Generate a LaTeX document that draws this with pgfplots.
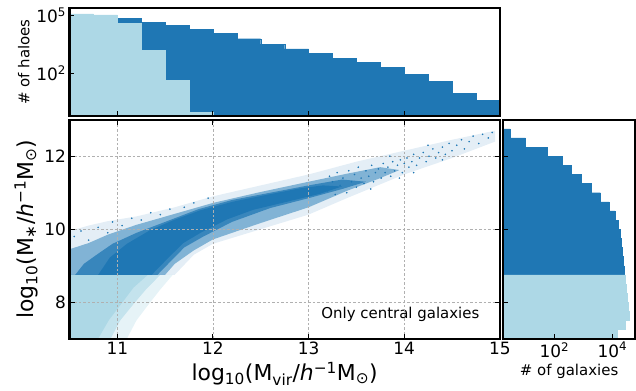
\documentclass[border=0pt]{standalone}
\usepackage{fontspec}
\setmainfont{DejaVu Sans}
\usepackage{pgfplots}
\usepackage{pgfplotstable}
\pgfplotsset{compat=1.18}
\definecolor{tabblue}{HTML}{1F77B4}
\definecolor{lblue}{HTML}{ADD8E6}
\definecolor{gridgray}{HTML}{B0B0B0}

% top histogram: halo counts per log10(Mvir) bin (last row = right edge)
\pgfplotstableread{
x n
10.50 100000
10.75 100000
11.00 69200
11.25 44700
11.50 30200
11.75 19500
12.00 11700
12.25 6170
12.50 3240
12.75 1860
13.00 1070
13.25 617
13.50 380
13.75 204
14.00 91
14.25 40
14.50 9
14.75 4
15.00 4
}\topdark
\pgfplotstableread{
x n
10.50 117500
10.75 105000
11.00 38900
11.25 1580
11.50 45
11.75 1
12.00 1
}\toplight
% right histogram: galaxy counts per log10(M*) bin (last row = upper edge)
\pgfplotstableread{
n y
25700 8.75
24000 9.00
21400 9.25
20000 9.50
18600 9.75
15500 10.00
12300 10.25
7760 10.50
3890 10.75
1860 11.00
870 11.25
380 11.50
186 11.75
56 12.00
10 12.25
3 12.50
3 12.75
}\rightdark
\pgfplotstableread{
n y
14800 7.00
28200 7.25
38900 7.50
35500 7.75
33100 8.00
29500 8.25
27500 8.50
27500 8.75
}\rightlight

\pgfplotsset{
  panel/.style={
    scale only axis,
    axis on top,
    tick align=inside,
    axis line style={line width=2.2bp, black},
    every tick/.style={black, line width=0.9bp},
    major tick length=5bp,
    ticklabel style={font=\fontsize{17}{17}\selectfont},
    /pgf/number format/assume math mode=true,
    label style={font=\fontsize{22}{24}\selectfont},
  }
}

\begin{document}
\begin{tikzpicture}
\useasboundingbox (0,0) rectangle (636bp,391bp);

% ---------------- main scatter panel ----------------
\begin{axis}[panel,
  at={(69.5bp,52.3bp)}, anchor=south west,
  width=430.3bp, height=219bp,
  xmin=10.5, xmax=15, ymin=7, ymax=13,
  xtick={11,12,13,14,15}, ytick={8,10,12},
  grid=major,
  grid style={gridgray, line width=0.6bp, dash pattern=on 2.5bp off 2bp},
  xlabel={log\textsubscript{10}(M\textsubscript{vir}/\textit{h}\textsuperscript{−1}M\textsubscript{⊙})},
  ylabel={log\textsubscript{10}(M\textsubscript{∗}/\textit{h}\textsuperscript{−1}M\textsubscript{⊙})},
]
% light blue (below stellar-mass cut)
\addplot[fill=lblue, draw=none, fill opacity=0.3] coordinates {
 (10.5,7.0) (10.5,8.75) (11.58,8.75) (11.45,8.35) (11.33,7.95) (11.2,7.5) (11.1,7.0)} --cycle;
\addplot[fill=lblue, draw=none, fill opacity=0.6] coordinates {
 (10.5,7.0) (10.5,8.75) (11.45,8.75) (11.3,8.35) (11.17,7.95) (11.03,7.5) (10.93,7.0)} --cycle;
\addplot[fill=lblue, draw=none] coordinates {
 (10.5,7.0) (10.5,8.75) (11.32,8.75) (11.17,8.4) (11.04,7.95) (10.91,7.5) (10.8,7.0)} --cycle;
% dark blue (above cut)
\addplot[fill=tabblue, draw=none, fill opacity=0.12] coordinates {
 (10.5,8.75) (10.5,9.95) (10.7,10.1) (10.9,10.22) (11.2,10.35) (11.6,10.6) (12.0,10.9)
 (12.5,11.2) (13.0,11.5) (13.5,11.85) (14.0,12.15) (14.5,12.45) (14.95,12.7)
 (14.95,12.4) (14.5,11.95) (14.0,11.5) (13.4,10.85) (13.0,10.4) (12.5,10.0)
 (12.0,9.6) (11.8,9.3) (11.6,8.75)} --cycle;
\addplot[fill=tabblue, draw=none, fill opacity=0.5] coordinates {
 (10.5,8.75) (10.5,9.45) (10.7,9.62) (10.9,9.85) (11.2,10.12) (11.6,10.42) (12.0,10.72)
 (12.5,11.02) (13.0,11.3) (13.4,11.52) (13.75,11.7) (13.95,11.62)
 (13.75,11.4) (13.4,11.05) (13.0,10.6) (12.5,10.17) (12.0,9.72) (11.8,9.42)
 (11.6,9.05) (11.5,8.75)} --cycle;
\addplot[fill=tabblue, draw=none, fill opacity=0.75] coordinates {
 (10.56,8.75) (10.65,9.05) (10.8,9.33) (10.95,9.6) (11.2,9.9) (11.5,10.2) (11.85,10.55)
 (12.2,10.8) (12.6,11.0) (13.0,11.2) (13.35,11.36) (13.6,11.3)
 (13.35,11.1) (13.0,10.85) (12.6,10.58) (12.2,10.2) (11.9,9.8) (11.7,9.5)
 (11.55,9.1) (11.42,8.75)} --cycle;
\addplot[fill=tabblue, draw=none] coordinates {
 (10.8,8.75) (10.92,9.22) (11.1,9.6) (11.34,9.97) (11.59,10.25) (11.87,10.52)
 (12.22,10.76) (12.56,10.94) (12.91,11.12) (13.15,11.2) (13.35,11.17)
 (13.12,10.97) (12.74,10.73) (12.42,10.53) (12.15,10.27) (11.87,9.9)
 (11.69,9.62) (11.52,9.18) (11.36,8.75)} --cycle;
% sparse individual galaxies
\addplot[only marks, color=tabblue, mark=*, mark size=0.6bp,
  mark options={draw=none, fill=tabblue, fill opacity=0.6}] table {
13.20 11.05
13.22 11.45
13.25 11.30
13.28 10.95
13.30 11.55
13.33 11.20
13.36 11.40
13.40 11.00
13.42 11.60
13.45 11.30
13.48 11.50
13.50 11.15
13.52 11.70
13.55 11.40
13.58 11.25
13.60 11.60
13.63 11.45
13.66 11.75
13.68 11.30
13.70 11.55
13.73 11.65
13.76 11.40
13.78 11.80
13.80 11.55
13.83 11.70
13.86 11.45
13.88 11.85
13.90 11.60
13.93 11.75
13.96 11.90
13.98 11.55
14.00 11.80
14.03 11.95
14.05 11.70
14.08 11.85
14.10 12.05
14.13 11.75
14.16 11.95
14.20 12.10
14.23 11.85
14.26 12.00
14.30 12.20
14.33 11.95
14.36 12.10
14.40 12.25
14.43 12.05
14.47 12.35
14.50 12.15
14.55 12.30
14.60 12.45
14.63 12.20
14.68 12.40
14.72 12.55
14.78 12.35
14.82 12.60
14.88 12.50
14.92 12.65
14.10 11.55
13.95 11.40
13.65 11.10
14.40 11.90
14.25 12.30
13.85 12.00
10.55 9.80
10.62 9.95
10.70 9.70
10.80 10.05
10.90 9.90
10.95 10.20
11.05 10.10
11.15 10.30
11.25 10.25
11.35 10.45
11.45 10.40
11.55 10.55
11.70 10.60
11.80 10.72
11.95 10.85
};
\node[font=\fontsize{15}{15}\selectfont] at (axis cs:13.96,7.68) {Only central galaxies};
\end{axis}

% ---------------- top histogram ----------------
\begin{axis}[panel,
  at={(69.5bp,274.7bp)}, anchor=south west,
  width=430.3bp, height=108.3bp,
  xmin=10.5, xmax=15, ymode=log, ymin=0.6, ymax=240000,
  log origin y=infty,
  xtick={11,12,13,14}, xticklabels={},
  xtick pos=bottom, ytick pos=left,
  ytick={100,100000}, yticklabels={10\textsuperscript{2},10\textsuperscript{5}},
  minor ytick={},
  ylabel={\# of haloes},
  ylabel style={font=\fontsize{15}{15}\selectfont},
]
\addplot[ybar interval, fill=tabblue, draw=tabblue, line width=0.2bp] table[x=x,y=n] {\topdark};
\addplot[ybar interval, fill=lblue, draw=lblue, line width=0.2bp] table[x=x,y=n] {\toplight};
\end{axis}

% ---------------- right histogram ----------------
\begin{axis}[panel,
  at={(502.7bp,52.3bp)}, anchor=south west,
  width=132.8bp, height=219bp,
  ymin=7, ymax=13, xmode=log, xmin=1.66, xmax=63000,
  log origin x=infty,
  ytick={8,10,12}, yticklabels={},
  xtick pos=bottom, ytick pos=left,
  xtick={100,10000}, xticklabels={10\textsuperscript{2},10\textsuperscript{4}},
  minor xtick={},
  xlabel={\# of galaxies},
  xlabel style={font=\fontsize{15}{15}\selectfont},
]
\addplot[xbar interval, fill=tabblue, draw=tabblue, line width=0.2bp] table[x=n,y=y] {\rightdark};
\addplot[xbar interval, fill=lblue, draw=lblue, line width=0.2bp] table[x=n,y=y] {\rightlight};
\end{axis}
\end{tikzpicture}
\end{document}
